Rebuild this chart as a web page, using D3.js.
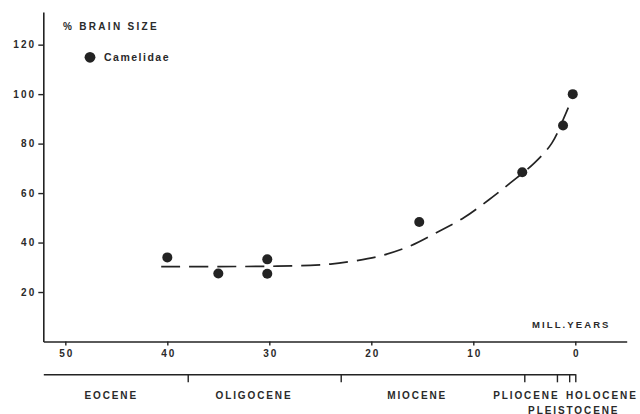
<!DOCTYPE html>
<html>
<head>
<meta charset="utf-8">
<script src="https://cdn.jsdelivr.net/npm/d3@7"></script>
<style>
  body { margin: 0; background: #fff; }
  text { font-family: "Liberation Sans", Arial, sans-serif; font-weight: bold; fill: #2a2a2a; }
</style>
</head>
<body>
<div id="chart"></div>
<script>
// brain size of Camelidae, % of recent value, against age (Myr)
var pointYears = [40, 35, 30.2, 30.2, 15.3, 5.2, 1.2, 0.25];
var pointValues = [34, 27.5, 33.2, 27.4, 48.3, 68.4, 87.3, 100];

// hand drawn trend line
var curveYears = [40.6, 35, 30, 26, 24, 21.6, 19, 16.2, 13.3, 10.9, 8.5, 6.4, 4, 2.3, 1, 0.35];
var curveValues = [30.3, 30.3, 30.4, 30.8, 31.3, 32.6, 34.7, 38.6, 44.7, 50.1, 57.2, 64, 72.2, 80.2, 91.5, 98];

var yTicks = [20, 40, 60, 80, 100, 120];
var xTicks = [50, 40, 30, 20, 10, 0];

// epoch boundaries and labels
var boundaries = [38, 23, 5, 1.8, 0.6, 0];
var periodNames = ["EOCENE", "OLIGOCENE", "MIOCENE", "PLIOCENE", "HOLOCENE", "PLEISTOCENE"];
var periodLabelAt = [45.5, 31.5, 15.5, 4.8, -2.6, 0.15];
var periodRow = [0, 0, 0, 0, 0, 1];

var width = 640, height = 414;
var ink = "#232323";

var svg = d3.select("#chart").append("svg")
    .attr("width", width)
    .attr("height", height);

var x = d3.scaleLinear().domain([52.16, -5.04]).range([43.3, 626.7]);
var y = d3.scaleLinear().domain([0, 133.2]).range([341.5, 12]);

function tickStyle(sel) {
    sel.attr("fill", ink)
        .style("font-size", "10px")
        .style("letter-spacing", "2.1px")
        .style("font-family", "'Liberation Sans', Arial, sans-serif")
        .style("font-weight", "bold");
}

// y axis
var yAxis = svg.append("g")
    .attr("transform", "translate(" + x(52.16) + ",0)")
    .call(d3.axisLeft(y).tickValues(yTicks).tickSize(5).tickSizeOuter(0).tickPadding(2));
yAxis.select(".domain").attr("stroke", ink).attr("stroke-width", 1.6);
yAxis.selectAll(".tick line").attr("stroke", ink).attr("stroke-width", 1.4);
yAxis.selectAll(".tick text").call(tickStyle);

// x axis
var xAxis = svg.append("g")
    .attr("transform", "translate(0," + y(0) + ")")
    .call(d3.axisBottom(x).tickValues(xTicks).tickSize(4).tickSizeOuter(0).tickPadding(4));
xAxis.select(".domain").attr("stroke", ink).attr("stroke-width", 1.6);
xAxis.selectAll(".tick line").attr("stroke", ink).attr("stroke-width", 1.4);
xAxis.selectAll(".tick text").attr("dx", "1px").call(tickStyle);

// geological time bar
var xp = x.copy().domain([52.16, 0]).range([x(52.16), x(0)]);
var pAxis = svg.append("g")
    .attr("transform", "translate(0,374.3)")
    .call(d3.axisBottom(xp).tickValues(boundaries).tickSize(8).tickSizeOuter(0).tickFormat(""));
pAxis.select(".domain").attr("stroke", ink).attr("stroke-width", 1.6);
pAxis.selectAll(".tick line").attr("stroke", ink).attr("stroke-width", 1.4);

svg.append("g").selectAll("text")
    .data(periodNames)
    .enter().append("text")
    .attr("x", function (d, i) { return x(periodLabelAt[i]); })
    .attr("y", function (d, i) { return periodRow[i] ? 413.5 : 398.5; })
    .attr("text-anchor", "middle")
    .style("font-size", "10px")
    .style("letter-spacing", "1.9px")
    .text(function (d) { return d; });

// dashed trend
var line = d3.line()
    .x(function (d, i) { return x(curveYears[i]); })
    .y(function (d) { return y(d); })
    .curve(d3.curveCatmullRom);

svg.append("path")
    .datum(curveValues)
    .attr("d", line)
    .attr("fill", "none")
    .attr("stroke", ink)
    .attr("stroke-width", 1.7)
    .attr("stroke-dasharray", "19,9");

// points
svg.append("g").selectAll("circle")
    .data(pointValues)
    .enter().append("circle")
    .attr("cx", function (d, i) { return x(pointYears[i]); })
    .attr("cy", function (d) { return y(d); })
    .attr("r", 5)
    .attr("fill", ink);

// titles and legend
svg.append("text")
    .attr("x", 63)
    .attr("y", 29.5)
    .style("font-size", "10px")
    .style("letter-spacing", "2.3px")
    .text("% BRAIN SIZE");

svg.append("circle")
    .attr("cx", 90)
    .attr("cy", 57.3)
    .attr("r", 5.4)
    .attr("fill", ink);

svg.append("text")
    .attr("x", 104)
    .attr("y", 61)
    .style("font-size", "10.5px")
    .style("letter-spacing", "1.5px")
    .text("Camelidae");

svg.append("text")
    .attr("x", 532)
    .attr("y", 327.5)
    .style("font-size", "9.5px")
    .style("letter-spacing", "2.1px")
    .text("MILL.YEARS");
</script>
</body>
</html>
